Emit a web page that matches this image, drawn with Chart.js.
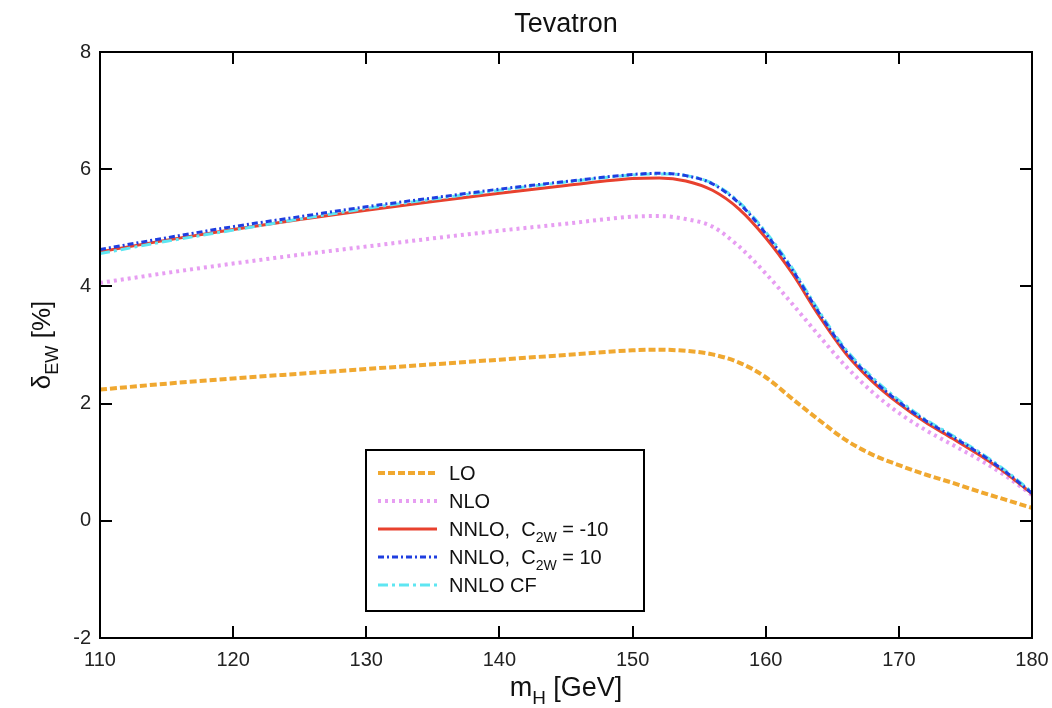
<!DOCTYPE html>
<html>
<head>
<meta charset="utf-8">
<script src="https://cdn.jsdelivr.net/npm/chart.js@4.4.0/dist/chart.umd.min.js"></script>
<style>
  html, body { margin: 0; padding: 0; background: white; }
  #wrap { width: 1052px; height: 708px; }
</style>
</head>
<body>
<div id="wrap"><canvas id="ew" width="1052" height="708"></canvas></div>
<script>
// Electroweak correction delta_EW vs Higgs mass at the Tevatron

const mH = [110, 115, 120, 125, 130, 135, 140, 145, 150, 152, 154, 156,
            158, 160, 162, 164, 166, 168, 170, 172, 174, 176, 178, 180];

const lo = [2.24, 2.34, 2.43, 2.51, 2.59, 2.67, 2.75, 2.83, 2.91, 2.92, 2.90, 2.84,
            2.70, 2.45, 2.08, 1.72, 1.38, 1.13, 0.95, 0.79, 0.65, 0.50, 0.36, 0.22];

const nlo = [4.06, 4.23, 4.39, 4.54, 4.68, 4.82, 4.95, 5.07, 5.19, 5.20, 5.15, 5.02,
             4.68, 4.22, 3.70, 3.16, 2.64, 2.20, 1.84, 1.55, 1.30, 1.05, 0.77, 0.44];

const nnloMinus10 = [4.59, 4.79, 4.97, 5.14, 5.30, 5.45, 5.59, 5.72, 5.84, 5.85, 5.80, 5.64,
                     5.32, 4.83, 4.22, 3.50, 2.86, 2.38, 2.00, 1.68, 1.41, 1.13, 0.82, 0.46];

const nnloPlus10 = [4.63, 4.83, 5.02, 5.19, 5.36, 5.51, 5.66, 5.79, 5.91, 5.93, 5.89, 5.75,
                    5.42, 4.90, 4.28, 3.55, 2.90, 2.42, 2.03, 1.71, 1.44, 1.16, 0.84, 0.47];

const nnloCF = [4.56, 4.77, 4.96, 5.15, 5.33, 5.49, 5.64, 5.78, 5.90, 5.92, 5.89, 5.76,
                5.44, 4.93, 4.31, 3.58, 2.93, 2.45, 2.06, 1.73, 1.46, 1.18, 0.86, 0.49];

const seriesLabels = ['LO', 'NLO', 'NNLO,  C_{2W} = -10', 'NNLO,  C_{2W} = 10', 'NNLO CF'];
const xTicks = { min: 110, max: 180, step: 10 };
const yTicks = { min: -2, max: 8, step: 2 };

const FONT = "'Liberation Sans', Arial, Helvetica, sans-serif";

function pts(ys) {
    return mH.map(function (m, i) { return { x: m, y: ys[i] }; });
}

// split "text_{sub}" into plain and subscript runs
function richParts(str) {
    const out = [];
    const re = /_\{([^}]*)\}/g;
    let last = 0, m;
    while ((m = re.exec(str)) !== null) {
        if (m.index > last) out.push({ t: str.slice(last, m.index), sub: false });
        out.push({ t: m[1], sub: true });
        last = re.lastIndex;
    }
    if (last < str.length) out.push({ t: str.slice(last), sub: false });
    return out;
}
function richWidth(ctx, str, size) {
    let w = 0;
    richParts(str).forEach(function (p) {
        ctx.font = (p.sub ? size * 0.7 : size) + 'px ' + FONT;
        w += ctx.measureText(p.t).width;
    });
    return w;
}
function drawRich(ctx, str, x, y, size) {
    richParts(str).forEach(function (p) {
        ctx.font = (p.sub ? size * 0.7 : size) + 'px ' + FONT;
        ctx.fillText(p.t, x, p.sub ? y + size * 0.3 : y);
        x += ctx.measureText(p.t).width;
    });
}

// frame box with inward ticks on all four sides, title and axis titles
const framePlugin = {
    id: 'frame',
    afterDraw: function (chart) {
        const ctx = chart.ctx;
        const a = chart.chartArea;
        const sx = chart.scales.x, sy = chart.scales.y;
        const tl = 12;
        const cx = (a.left + a.right) / 2;
        ctx.save();
        ctx.strokeStyle = '#000';
        ctx.lineWidth = 2;
        ctx.strokeRect(a.left, a.top, a.right - a.left, a.bottom - a.top);
        ctx.beginPath();
        sx.ticks.forEach(function (t) {
            const px = Math.round(sx.getPixelForValue(t.value));
            ctx.moveTo(px, a.bottom); ctx.lineTo(px, a.bottom - tl);
            ctx.moveTo(px, a.top); ctx.lineTo(px, a.top + tl);
        });
        sy.ticks.forEach(function (t) {
            const py = Math.round(sy.getPixelForValue(t.value));
            ctx.moveTo(a.left, py); ctx.lineTo(a.left + tl, py);
            ctx.moveTo(a.right, py); ctx.lineTo(a.right - tl, py);
        });
        ctx.stroke();

        ctx.fillStyle = '#111';
        ctx.textBaseline = 'alphabetic';
        ctx.textAlign = 'left';
        // title
        const tw = richWidth(ctx, 'Tevatron', 27);
        drawRich(ctx, 'Tevatron', cx - tw / 2, 32, 27);
        // x title
        const xs = 'm_{H} [GeV]';
        const xw = richWidth(ctx, xs, 27);
        drawRich(ctx, xs, cx - xw / 2, 696, 27);
        // y title, rotated
        const ys = 'δ_{EW} [%]';
        const yw = richWidth(ctx, ys, 26);
        ctx.translate(50, (a.top + a.bottom) / 2);
        ctx.rotate(-Math.PI / 2);
        drawRich(ctx, ys, -yw / 2, 0, 26);
        ctx.restore();
    }
};

// legend box inside the plot, below the curves
const legendPlugin = {
    id: 'boxLegend',
    afterDatasetsDraw: function (chart) {
        const ctx = chart.ctx;
        const a = chart.chartArea;
        const bx = a.left + 266, by = a.top + 398, bw = 278, bh = 161;
        ctx.save();
        ctx.fillStyle = '#fff';
        ctx.fillRect(bx, by, bw, bh);
        ctx.strokeStyle = '#000';
        ctx.lineWidth = 2;
        ctx.strokeRect(bx, by, bw, bh);
        chart.data.datasets.forEach(function (ds, i) {
            const ry = by + 23 + i * 28;
            ctx.strokeStyle = ds.borderColor;
            ctx.lineWidth = ds.borderWidth;
            ctx.setLineDash(ds.borderDash || []);
            ctx.beginPath();
            ctx.moveTo(bx + 12, ry);
            ctx.lineTo(bx + 71, ry);
            ctx.stroke();
            ctx.setLineDash([]);
            ctx.fillStyle = '#111';
            ctx.textAlign = 'left';
            ctx.textBaseline = 'alphabetic';
            drawRich(ctx, ds.label, bx + 83, ry + 7, 20);
        });
        ctx.restore();
    }
};

const styles = [
    { color: '#f0a830', width: 4, dash: [7, 3], order: 5 },
    { color: '#e79ef2', width: 4, dash: [3, 4], order: 4 },
    { color: '#e8412e', width: 3, dash: [], order: 3 },
    { color: '#1f3ee0', width: 3, dash: [6, 3, 2, 3], order: 1 },
    { color: '#5ee6f2', width: 3, dash: [10, 4, 3, 4], order: 2 }
];
const series = [lo, nlo, nnloMinus10, nnloPlus10, nnloCF];

new Chart(document.getElementById('ew').getContext('2d'), {
    type: 'line',
    data: {
        datasets: series.map(function (s, i) {
            return {
                label: seriesLabels[i],
                data: pts(s),
                borderColor: styles[i].color,
                borderWidth: styles[i].width,
                borderDash: styles[i].dash,
                order: styles[i].order,
                pointRadius: 0,
                fill: false,
                cubicInterpolationMode: 'monotone'
            };
        })
    },
    options: {
        responsive: false,
        animation: false,
        devicePixelRatio: 1,
        layout: { padding: { left: 0, right: 20, top: 52, bottom: 0 } },
        scales: {
            x: {
                type: 'linear',
                min: xTicks.min, max: xTicks.max,
                grid: { display: false, drawTicks: false },
                border: { display: false },
                ticks: { stepSize: xTicks.step, padding: 10, color: '#222',
                         font: { family: FONT, size: 20 } },
                afterFit: function (s) {
                    s.height = 70;
                    s.paddingLeft = 0;
                    s.paddingRight = 0;
                }
            },
            y: {
                min: yTicks.min, max: yTicks.max,
                grid: { display: false, drawTicks: false },
                border: { display: false },
                ticks: { stepSize: yTicks.step, padding: 9, color: '#222',
                         font: { family: FONT, size: 20 } },
                afterFit: function (s) {
                    s.width = 100;
                    s.paddingTop = 0;
                    s.paddingBottom = 0;
                }
            }
        },
        plugins: {
            legend: { display: false },
            tooltip: { enabled: false },
            title: { display: false }
        }
    },
    plugins: [framePlugin, legendPlugin]
});
</script>
</body>
</html>
